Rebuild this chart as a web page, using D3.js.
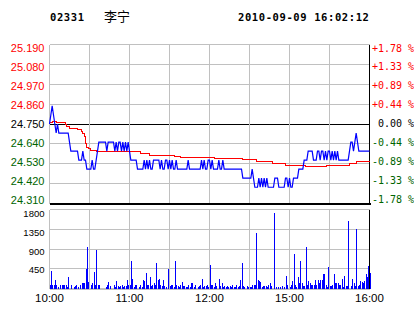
<!DOCTYPE html>
<html><head><meta charset="utf-8">
<script src="https://cdn.jsdelivr.net/npm/d3@7/dist/d3.min.js"></script>
<style>
html,body{margin:0;padding:0;background:#fff;}
svg{display:block;}
</style></head>
<body><svg id="c" width="414" height="314"></svg>
<script>
// ---------- data ----------
const stockCode = "02331";
const stockName = "李宁";
const stamp = "2010-09-09 16:02:12";
const prevClose = 24.75;
const priceTicks = [24.31, 24.42, 24.53, 24.64, 24.75, 24.86, 24.97, 25.08, 25.19];
const priceTickLabels = ["24.310","24.420","24.530","24.640","24.750","24.860","24.970","25.080","25.190"];
const pctLabels = ["-1.78 %","-1.33 %","-0.89 %","-0.44 %"," 0.00 %","+0.44 %","+0.89 %","+1.33 %","+1.78 %"];
const volTicks = [450, 900, 1350, 1800];
const volTickLabels = ["450","900","1350","1800"];
const timeTickMinutes = [0, 60, 120, 180, 240];
const timeTickLabels = ["10:00","11:00","12:00","15:00","16:00"];
const gridMinutes = [0, 30, 60, 90, 120, 150, 180, 210, 240];

// minute-by-minute last price (index = trading minute from 10:00)
const price = [
24.75,24.80,24.85,24.80,24.75,24.70,24.75,24.70,24.70,24.70,
24.70,24.70,24.70,24.70,24.70,24.65,24.60,24.60,24.60,24.60,
24.60,24.60,24.55,24.55,24.55,24.60,24.55,24.55,24.50,24.50,
24.50,24.50,24.55,24.50,24.50,24.55,24.60,24.65,24.65,24.65,
24.65,24.65,24.65,24.60,24.65,24.65,24.65,24.65,24.65,24.60,
24.65,24.60,24.65,24.65,24.60,24.65,24.60,24.65,24.60,24.65,
24.60,24.55,24.55,24.55,24.55,24.55,24.50,24.50,24.50,24.50,
24.50,24.55,24.50,24.55,24.50,24.55,24.50,24.50,24.55,24.55,
24.55,24.55,24.55,24.50,24.55,24.50,24.50,24.55,24.55,24.50,
24.55,24.50,24.55,24.50,24.50,24.55,24.50,24.50,24.50,24.50,
24.50,24.50,24.50,24.50,24.55,24.50,24.50,24.50,24.50,24.50,
24.50,24.50,24.50,24.50,24.55,24.50,24.55,24.50,24.50,24.55,
24.55,24.50,24.55,24.50,24.50,24.50,24.50,24.55,24.50,24.50,
24.55,24.50,24.50,24.50,24.50,24.50,24.50,24.50,24.50,24.50,
24.50,24.50,24.50,24.50,24.50,24.45,24.45,24.45,24.45,24.45,
24.45,24.45,24.50,24.45,24.40,24.40,24.40,24.45,24.40,24.45,
24.40,24.45,24.40,24.45,24.40,24.40,24.40,24.40,24.40,24.45,
24.45,24.45,24.40,24.40,24.40,24.40,24.40,24.45,24.45,24.40,
24.45,24.40,24.40,24.45,24.45,24.45,24.45,24.50,24.50,24.50,
24.50,24.55,24.55,24.55,24.60,24.60,24.60,24.60,24.55,24.55,
24.55,24.60,24.60,24.55,24.60,24.60,24.55,24.60,24.55,24.60,
24.60,24.55,24.60,24.55,24.60,24.55,24.60,24.55,24.55,24.55,
24.55,24.55,24.55,24.55,24.55,24.60,24.65,24.65,24.60,24.65,
24.70,24.65,24.60,24.60,24.60,24.60,24.60,24.60,24.60,24.60,24.60
];

// average price readings: [minute, value]
const avgMinutes = [0,2,5,12,13,15,21,24,25,26,27,28,29,31,35,61,68,75,82,94,98,124,145,155,167,177,192,208,225,230,236,240];
const avgValues  = [24.757,24.766,24.757,24.745,24.735,24.726,24.72,24.71,24.70,24.68,24.64,24.62,24.613,24.606,24.60,24.597,24.588,24.578,24.573,24.569,24.563,24.558,24.554,24.541,24.53,24.523,24.515,24.521,24.529,24.54,24.545,24.545];

// per-minute volume
const volume = [
90,390,90,75,190,90,45,0,90,90,
90,90,90,45,265,0,75,0,45,60,
75,45,0,75,115,115,115,440,940,150,
0,75,115,365,90,870,90,90,0,0,
0,0,45,90,150,60,0,0,90,45,
165,60,45,60,90,45,60,60,190,75,
90,620,210,45,90,90,0,45,90,45,
190,165,350,90,75,265,60,90,115,75,
575,190,210,90,60,190,60,45,0,455,
60,90,75,45,620,90,60,45,90,150,
60,60,45,45,90,45,115,115,45,90,
0,45,60,90,210,45,60,60,90,45,
530,90,75,45,115,60,0,225,60,135,
45,60,45,60,45,60,45,90,45,45,
75,45,60,190,570,60,45,0,60,45,
45,45,90,90,90,1275,190,165,150,45,
60,60,60,45,90,135,60,0,1730,0,
45,45,0,45,60,0,45,275,75,0,
45,90,165,775,90,45,265,135,620,135,
60,60,940,90,165,115,90,90,90,190,
90,190,115,190,190,325,325,90,45,485,
60,60,90,325,135,135,115,90,90,225,
45,290,60,60,1530,0,60,210,115,60,
1365,60,90,165,150,115,165,325,265,510,
350
];

// ---------- drawing ----------
const svg = d3.select("#c");
const x = d3.scaleLinear().domain([0, 240]).range([49.5, 369.5]);
const y = d3.scaleLinear().domain([24.31, 25.19]).range([203.5, 44.5]);
const yv = d3.scaleLinear().domain([0, 1800]).range([288.5, 209.5]);
// label placement keeps end labels inside the panels
const yLab = d3.scaleLinear().domain([24.31, 25.19]).range([199.8, 47.9]);
const yvLab = d3.scaleLinear().domain([450, 1800]).range([270, 213.3]);

const GRID = "#c0c0c0";
const RED = "#ff0000", GREEN = "#006400";

// header
svg.append("text").attr("x", 50).attr("y", 21)
  .attr("font-family", "DejaVu Sans Mono").attr("font-weight", "bold")
  .attr("font-size", "10.5px").attr("letter-spacing", "0.6px").attr("fill", "#000").text(stockCode);
svg.append("text").attr("x", 104).attr("y", 20.5)
  .attr("font-family", "Noto Sans CJK SC").attr("font-size", "13px").attr("fill", "#000").text(stockName);
svg.append("text").attr("x", 238).attr("y", 21)
  .attr("font-family", "DejaVu Sans Mono").attr("font-weight", "bold")
  .attr("font-size", "10.5px").attr("letter-spacing", "0.6px").attr("fill", "#000").text(stamp);

const g = svg.append("g").attr("shape-rendering", "crispEdges");

// price panel grid
g.selectAll(".hg").data(priceTicks).join("line")
  .attr("x1", x(0)).attr("x2", x(240))
  .attr("y1", d => y(d)).attr("y2", d => y(d))
  .attr("stroke", d => (d === prevClose ? "#000" : GRID))
  .attr("stroke-width", 1);
g.selectAll(".vg").data(gridMinutes).join("line")
  .attr("x1", d => x(d)).attr("x2", d => x(d))
  .attr("y1", y(25.19)).attr("y2", y(24.31))
  .attr("stroke", d => (d === 240 ? "#000" : GRID));
// bottom black rule
g.append("line").attr("x1", x(0)).attr("x2", x(240) + 1)
  .attr("y1", y(24.31) + 0.5).attr("y2", y(24.31) + 0.5)
  .attr("stroke", "#000").attr("stroke-width", 2);

// volume grid
g.selectAll(".vhg").data([0].concat(volTicks)).join("line")
  .attr("x1", x(0)).attr("x2", x(240))
  .attr("y1", d => yv(d)).attr("y2", d => yv(d))
  .attr("stroke", GRID).attr("stroke-width", d => d === 0 ? 2 : 1);
g.selectAll(".vvg").data(gridMinutes).join("line")
  .attr("x1", d => x(d)).attr("x2", d => x(d))
  .attr("y1", yv(1800)).attr("y2", yv(0))
  .attr("stroke", d => (d === 240 ? "#000" : GRID));

// volume bars
g.selectAll(".bar").data(volume).join("rect")
  .attr("x", (d, i) => x(i) + 0.2)
  .attr("width", 1)
  .attr("y", d => yv(d))
  .attr("height", d => yv(0) - yv(d))
  .attr("fill", "#0000ff");

// average line
const avgPts = avgMinutes.map((m, i) => [m, avgValues[i]]);
svg.append("path").datum(avgPts)
  .attr("d", d3.line().x(d => x(d[0])).y(d => y(d[1])).curve(d3.curveStepAfter))
  .attr("fill", "none").attr("stroke", "#ff0000").attr("stroke-width", 1)
  .attr("shape-rendering", "crispEdges");

// price line
svg.append("path").datum(price)
  .attr("d", d3.line().x((d, i) => x(i)).y(d => y(d)))
  .attr("fill", "none").attr("stroke", "#0000ff").attr("stroke-width", 1.2);

// left price labels
svg.selectAll(".pl").data(priceTicks).join("text")
  .attr("x", 44.5).attr("y", d => yLab(d)).attr("dy", "0.36em")
  .attr("text-anchor", "end")
  .attr("font-family", "Liberation Sans").attr("font-size", "11px")
  .attr("fill", d => d > prevClose + 1e-9 ? RED : (d < prevClose - 1e-9 ? GREEN : "#000"))
  .text((d, i) => priceTickLabels[i]);

// right percent labels
svg.selectAll(".rl").data(priceTicks).join("text")
  .attr("x", 372).attr("y", d => yLab(d)).attr("dy", "0.36em")
  .attr("font-family", "DejaVu Sans Mono").attr("font-size", "10px")
  .attr("xml:space", "preserve").style("white-space", "pre")
  .attr("fill", d => d > prevClose + 1e-9 ? RED : (d < prevClose - 1e-9 ? GREEN : "#000"))
  .text((d, i) => pctLabels[i]);

// volume labels
svg.selectAll(".vl").data(volTicks).join("text")
  .attr("x", 44.5).attr("y", d => yvLab(d)).attr("dy", "0.36em")
  .attr("text-anchor", "end")
  .attr("font-family", "Liberation Sans").attr("font-size", "9.5px")
  .attr("fill", "#000")
  .text((d, i) => volTickLabels[i]);

// time labels
svg.selectAll(".tl").data(timeTickMinutes).join("text")
  .attr("x", d => x(d)).attr("y", 302)
  .attr("text-anchor", "middle")
  .attr("font-family", "Liberation Sans").attr("font-size", "11.5px")
  .attr("fill", "#000")
  .text((d, i) => timeTickLabels[i]);
</script>
</body></html>
